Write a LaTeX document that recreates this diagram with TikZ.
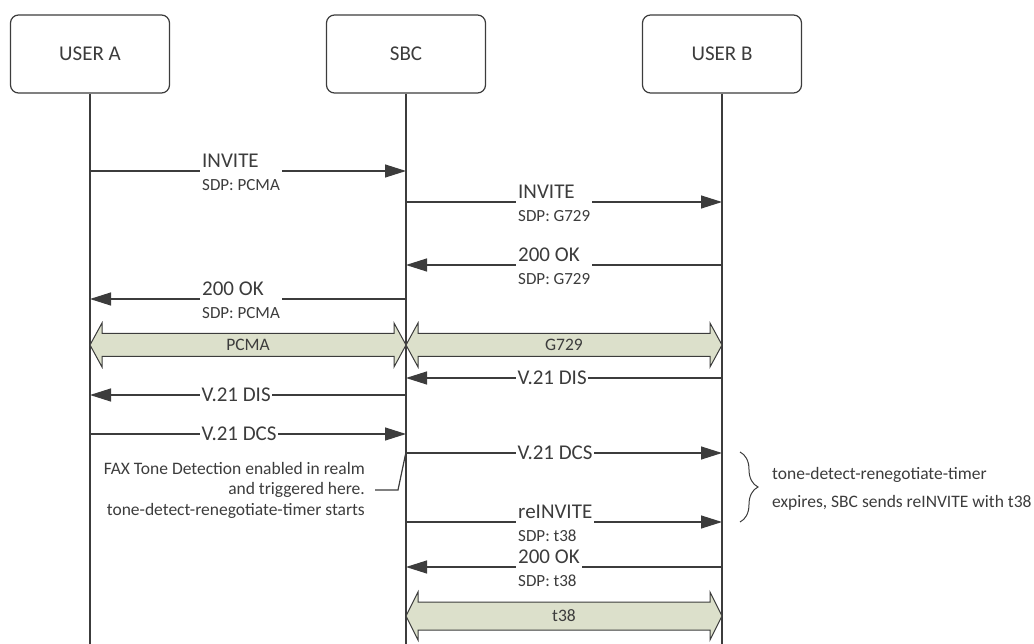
\documentclass[tikz,border=0pt]{standalone}
\usepackage{fontspec}
\setmainfont{Carlito}
\usepackage{tikz}
\usetikzlibrary{arrows.meta,decorations.pathreplacing}
\definecolor{ink}{HTML}{3C3C3C}
\definecolor{bandfill}{HTML}{DCE0CB}
\tikzset{ent/.style={draw=ink,line width=1.2pt,rounded corners=8pt,minimum width=159pt,minimum height=78pt,text=ink,font=\fontsize{21}{25}\selectfont},
  life/.style={draw=ink,line width=1.2pt},msg/.style={draw=ink,line width=1.2pt,-{Triangle[length=21pt,width=13pt]}},
  lbl/.style={fill=white,anchor=west,align=left,inner xsep=2pt,inner ysep=1pt,text=ink,font=\fontsize{21}{25}\selectfont},
  band/.style={draw=ink,line width=1pt,fill=bandfill,line join=miter},bandlbl/.style={text=ink,inner sep=0pt,font=\fontsize{17.5}{20}\selectfont},
  note/.style={text=ink,inner sep=0pt,font=\fontsize{17.5}{20.5}\selectfont}}
\newcommand{\sdp}[1]{\\[-2pt]{\fontsize{17}{20}\selectfont SDP: #1}}
% x1, x2, y, half head, half body
\newcommand{\bandarrow}[5]{\draw[band] (#1,#3) -- ({#1+12},{#3-#4}) -- ({#1+12},{#3-#5}) -- ({#2-12},{#3-#5}) -- ({#2-12},{#3-#4}) -- (#2,#3)
  -- ({#2-12},{#3+#4}) -- ({#2-12},{#3+#5}) -- ({#1+12},{#3+#5}) -- ({#1+12},{#3+#4}) -- cycle;}

\begin{document}
\begin{tikzpicture}[x=1pt,y=-1pt]
\useasboundingbox (0,0) rectangle (1034,644);
\coordinate (bot) at (0,644);
\node[ent] (ua) at (90,54) {USER A}; \node[ent] (sbc) at (406,54) {SBC}; \node[ent] (ub) at (722,54) {USER B};
\draw[life] (ua) -- (ua |- bot); \draw[life] (sbc) -- (sbc |- bot); \draw[life] (ub) -- (ub |- bot);
% call setup
\coordinate (r1) at (0,171); \coordinate (r2) at (0,202); \coordinate (r3) at (0,265); \coordinate (r4) at (0,299);
\draw[msg] (ua |- r1) -- (sbc |- r1); \node[lbl] (l1) at (200,172) {INVITE\sdp{PCMA}};
\draw[msg] (sbc |- r2) -- (ub |- r2); \node[lbl] (l2) at (516,203) {INVITE\sdp{G729}};
\draw[msg] (ub |- r3) -- (sbc |- r3); \node[lbl] (l3) at (516,266) {200 OK\sdp{G729}};
\draw[msg] (sbc |- r4) -- (ua |- r4); \node[lbl] (l4) at (200,300) {200 OK\sdp{PCMA}};
% media
\bandarrow{90}{406}{345}{22}{11.5} \node[bandlbl] (pcma) at (248,345) {PCMA};
\bandarrow{406}{722}{345}{22}{11.5} \node[bandlbl] (g729) at (564,345) {G729};
% fax tones
\coordinate (r5) at (0,378); \coordinate (r6) at (0,395); \coordinate (r7) at (0,434); \coordinate (r8) at (0,453);
\draw[msg] (ub |- r5) -- (sbc |- r5); \node[lbl,inner xsep=1.5pt] (l5) at (516,378) {V.21 DIS};
\draw[msg] (sbc |- r6) -- (ua |- r6); \node[lbl,inner xsep=1.5pt] (l6) at (200,395) {V.21 DIS};
\draw[msg] (ua |- r7) -- (sbc |- r7); \node[lbl,inner xsep=1.5pt] (l7) at (200,434) {V.21 DCS};
\draw[msg] (sbc |- r8) -- (ub |- r8); \node[lbl,inner xsep=1.5pt] (l8) at (516,453) {V.21 DCS};
\node[note,anchor=east,align=right] (fax) at (365,490) {FAX Tone Detection enabled in realm\\and triggered here.\\tone-detect-renegotiate-timer starts};
\coordinate (trig) at (406,452);
\draw[ink,line width=1.2pt] ([xshift=10pt]fax.east) -- ++(23,0) -- (trig);
% re-negotiation
\coordinate (r9) at (0,522); \coordinate (r10) at (0,567);
\draw[msg] (sbc |- r9) -- (ub |- r9); \node[lbl] (l9) at (516,523) {reINVITE\sdp{t38}};
\draw[msg] (ub |- r10) -- (sbc |- r10); \node[lbl] (l10) at (516,568) {200 OK\sdp{t38}};
\bandarrow{406}{722}{616}{24}{14} \node[bandlbl] (t38) at (564,616) {t38};
\coordinate (bt) at (740,452); \coordinate (bb) at (740,522);
\draw[ink,line width=1pt,decorate,decoration={brace,amplitude=18pt}] (bt) -- (bb);
\node[note,anchor=west,align=left,font=\fontsize{17.5}{28}\selectfont] (timer) at (772,489) {tone-detect-renegotiate-timer\\expires, SBC sends reINVITE with t38};
\end{tikzpicture}
\end{document}
